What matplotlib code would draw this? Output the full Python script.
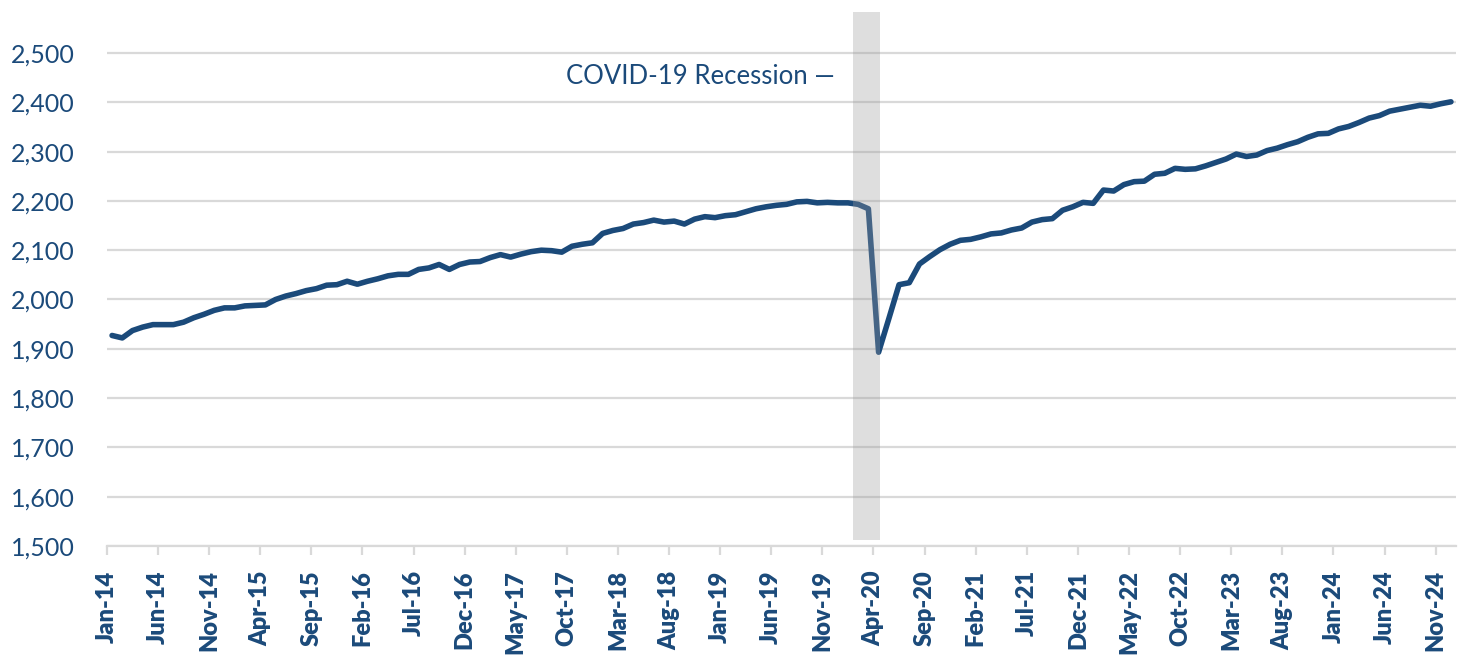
import pandas as pd
import matplotlib.pyplot as plt
import numpy as np

plt.rcParams['font.family'] = ['Lato', 'DejaVu Sans']

# --- data: monthly values, Jan-14 .. Dec-24 ---
start_month = '2014-01'
n_months = 132
values = [
    1927, 1922, 1937, 1944, 1949, 1949, 1949, 1954, 1963, 1970, 1978, 1983,
    1983, 1987, 1988, 1989, 2000, 2007, 2012, 2018, 2022, 2029, 2030, 2037,
    2031, 2037, 2042, 2048, 2051, 2051, 2061, 2064, 2071, 2061, 2071, 2076,
    2077, 2085, 2091, 2086, 2092, 2097, 2100, 2099, 2096, 2108, 2112, 2115,
    2134, 2140, 2144, 2153, 2156, 2161, 2157, 2159, 2153, 2163, 2168, 2166,
    2170, 2172, 2178, 2184, 2188, 2191, 2193, 2198, 2199, 2196, 2197, 2196,
    2196, 2193, 2184, 1893, 1961, 2030, 2034, 2072, 2087, 2101, 2112, 2120,
    2122, 2127, 2133, 2135, 2141, 2145, 2157, 2162, 2164, 2181, 2188, 2197,
    2195, 2222, 2220, 2233, 2239, 2240, 2254, 2256, 2266, 2264, 2265, 2271,
    2278, 2285, 2295, 2290, 2293, 2302, 2307, 2314, 2320, 2329, 2336, 2337,
    2346, 2351, 2359, 2368, 2373, 2382, 2386, 2390, 2394, 2392, 2397, 2401,
]
recession_start = '2020-02'
recession_end = '2020-04'
y_ticks = list(range(1500, 2501, 100))

BLUE = '#1B4A7A'
GRID = '#D9D9D9'

months = pd.period_range(start_month, periods=n_months, freq='M')
x = np.arange(n_months)
labels = [m.strftime('%b-%y') for m in months]

fig = plt.figure(figsize=(14.65, 6.59), dpi=100)
ax = fig.add_axes([0.073, 0.1715, 0.9209, 0.8229])

ax.plot(x, values, color=BLUE, lw=4, solid_capstyle='round', solid_joinstyle='round', zorder=3)

# recession shading, drawn over the line like the original
rs = list(months).index(pd.Period(recession_start, 'M')) - 0.5
re_ = list(months).index(pd.Period(recession_end, 'M')) + 0.1
ax.fill_between([rs, re_], 1512, 2583, color='#9C9C9C', alpha=0.33, lw=0, zorder=4)

ax.text(rs - 1.8, 2453, 'COVID-19 Recession \u2014', ha='right', va='center',
        fontsize=18.5, color=BLUE)

ax.set_xlim(-0.5, n_months - 0.5)
ax.set_ylim(1500, 2600)
ax.set_yticks(y_ticks)
ax.set_yticklabels([f'{v:,}' for v in y_ticks])
ax.grid(axis='y', color=GRID, lw=1.6, zorder=0)

tick_idx = x[::5]
ax.set_xticks(tick_idx - 0.5)
ax.set_xticklabels([labels[i] for i in tick_idx], rotation=90, fontweight='heavy')

ax.tick_params(axis='y', length=0, pad=23, labelsize=18, labelcolor=BLUE)
ax.tick_params(axis='x', length=6.5, width=1.6, color=GRID, pad=11, labelsize=17, labelcolor=BLUE)

for side in ['top', 'right', 'left']:
    ax.spines[side].set_visible(False)
ax.spines['bottom'].set_color(GRID)
ax.spines['bottom'].set_linewidth(1.6)

fig.savefig('out.png', dpi=100)
